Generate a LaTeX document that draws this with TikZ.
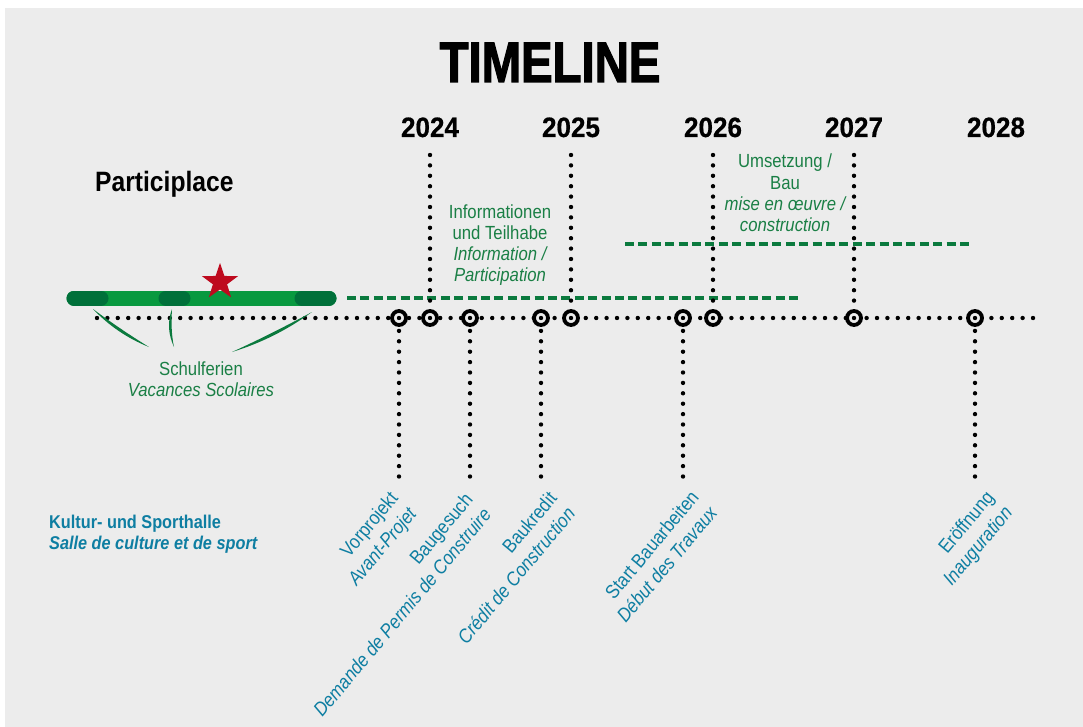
\documentclass[tikz,border=0pt]{standalone}
\usepackage{fontspec}
\setmainfont{Liberation Sans}[FakeStretch=0.88]
\newfontfamily\titlefont{Liberation Sans}[FakeStretch=0.83, FakeBold=2]
\newfontfamily\yearfont{Liberation Sans}[FakeStretch=0.93, FakeBold=0.6]
\usetikzlibrary{shapes.geometric}
\definecolor{bg}{HTML}{ECECEC}
\definecolor{bargreen}{HTML}{08993F}
\definecolor{bardark}{HTML}{00703A}
\definecolor{dgreen}{HTML}{0B7A3E}
\definecolor{gtext}{HTML}{1A7F45}
\definecolor{btext}{HTML}{0E7EA2}
\definecolor{starred}{HTML}{BE0A1E}
\begin{document}
\begin{tikzpicture}[x=1pt,y=-1pt,
  dotline/.style={line width=4.4pt, line cap=round, dash pattern=on 0pt off 10.4pt},
  gdash/.style={dgreen, line width=3.2pt, dash pattern=on 9pt off 4.4pt},
  ring/.style={circle, draw=black, line width=3.8pt, fill=bg, inner sep=0pt, minimum size=14pt},
  lbl/.style={inner sep=0pt, anchor=base},
  gfont/.style={font=\fontsize{19}{21}\selectfont, text=gtext},
  rlab/.style={inner sep=0pt, anchor=base east, text=btext, font=\fontsize{19.5}{21}\selectfont},
  year/.style={lbl, font=\yearfont\bfseries\fontsize{28}{28}\selectfont}
]
\useasboundingbox (0,0) rectangle (1083,727);
\fill[white] (0,0) rectangle (1083,727);
\fill[bg] (5,8) rectangle (1083,727);

% title and years
\node[lbl, font=\titlefont\bfseries\fontsize{57}{57}\selectfont] (title) at (550,82) {TIMELINE};
\node[year] (y24) at (430,137) {2024};
\node[year] (y25) at (571,137) {2025};
\node[year] (y26) at (713,137) {2026};
\node[year] (y27) at (854,137) {2027};
\node[year] (y28) at (996,137) {2028};

\node[lbl, anchor=base west, font=\bfseries\fontsize{28}{28}\selectfont] (pp) at (95,192) {Participlace};

% main time axis
\coordinate (axL) at (97,318);
\coordinate (axR) at (1040,318);
\draw[dotline] (axL) -- (axR);

% upper year ticks
\foreach \x/\n in {430/a, 571/b, 713/c, 854/d}
  \coordinate (top\n) at (\x,155);
% lower milestone ticks
\foreach \x/\n in {399/p, 470/q, 541/r, 683/s, 975/t}
  \coordinate (bot\n) at (\x,481);

% green phase lines
\coordinate (ph1a) at (347,298);
\coordinate (ph1b) at (800,298);
\coordinate (ph2a) at (625,244);
\coordinate (ph2b) at (972,244);
\draw[gdash] (ph1a) -- (ph1b);
\draw[gdash] (ph2a) -- (ph2b);

% markers on the axis
\node[ring] (mp) at (399,318) {};
\node[ring] (ma) at (430,318) {};
\node[ring] (mq) at (470,318) {};
\node[ring] (mr) at (541,318) {};
\node[ring] (mb) at (571,318) {};
\node[ring] (ms) at (683,318) {};
\node[ring] (mc) at (713,318) {};
\node[ring] (md) at (854,318) {};
\node[ring] (mt) at (975,318) {};
\foreach \n in {p,a,q,r,b,s,c,d,t}
  \fill (m\n.center) circle[radius=2.2pt];

\foreach \n in {a,b,c,d}
  \draw[dotline] (top\n) -- (m\n.north);
\foreach \n in {p,q,r,s,t}
  \draw[dotline] (m\n.south) ++(0,4) -- (bot\n);

% school holidays bar
\draw[bargreen, line width=15pt, line cap=round] (74,298) -- (329,298);
\draw[bardark, line width=15pt, line cap=round] (74,298) -- (101,298);
\draw[bardark, line width=15pt, line cap=round] (166,298) -- (183,298);
\draw[bardark, line width=15pt, line cap=round] (302,298) -- (329,298);
\node[star, star points=5, star point ratio=2.55, minimum size=38pt, inner sep=0pt, fill=starred] (st) at (220,282) {};

% brush strokes towards the holiday label
\fill[dgreen] (93,309) .. controls (108.9,325.8) and (127.5,338.4) .. (149,347)
  .. controls (129.7,335.1) and (111.1,322.5) .. (93,309) -- cycle;
\fill[dgreen] (172,309) .. controls (167.2,322) and (168.3,334.6) .. (174,347)
  .. controls (171.3,334.4) and (171.2,321.8) .. (172,309) -- cycle;
\fill[dgreen] (312,312) .. controls (287.5,329.8) and (260.9,343.2) .. (232,352)
  .. controls (259.1,339.6) and (285.8,326.2) .. (312,312) -- cycle;

\node[lbl, gfont] (sf1) at (201,375) {Schulferien};
\node[lbl, gfont] (sf2) at (201,396) {\itshape Vacances Scolaires};

% phase labels
\node[lbl, gfont] (in1) at (500,219) {Informationen};
\node[lbl, gfont] (in2) at (500,240) {und Teilhabe};
\node[lbl, gfont] (in3) at (500,260.5) {\itshape Information /};
\node[lbl, gfont] (in4) at (500,281) {\itshape Participation};

\node[lbl, gfont] (um1) at (785,168) {Umsetzung /};
\node[lbl, gfont] (um2) at (785,189.5) {Bau};
\node[lbl, gfont] (um3) at (785,211) {\itshape mise en œuvre /};
\node[lbl, gfont] (um4) at (785,232) {\itshape construction};

% project name
\node[lbl, anchor=base west, text=btext, font=\bfseries\fontsize{18.5}{21}\selectfont] (k1) at (49,528) {Kultur- und Sporthalle};
\node[lbl, anchor=base west, text=btext, font=\bfseries\itshape\fontsize{18.5}{21}\selectfont] (k2) at (49,549) {Salle de culture et de sport};

% milestone labels
\begin{scope}[shift={(399,499)}, rotate=50, transform shape]
  \node[rlab] (vp1) at (0,0) {Vorprojekt};
  \node[rlab] (vp2) at (0,24) {\itshape Avant-Projet};
\end{scope}
\begin{scope}[shift={(474,500)}, rotate=50, transform shape]
  \node[rlab] (bg1) at (0,0) {Baugesuch};
  \node[rlab] (bg2) at (0,24) {\itshape Demande de Permis de Construire};
\end{scope}
\begin{scope}[shift={(558,499)}, rotate=50, transform shape]
  \node[rlab] (bk1) at (0,0) {Baukredit};
  \node[rlab] (bk2) at (0,24) {\itshape Crédit de Construction};
\end{scope}
\begin{scope}[shift={(700,498)}, rotate=50, transform shape]
  \node[rlab] (sb1) at (0,0) {Start Bauarbeiten};
  \node[rlab] (sb2) at (0,24) {\itshape Début des Travaux};
\end{scope}
\begin{scope}[shift={(995,498)}, rotate=50, transform shape]
  \node[rlab] (er1) at (0,0) {Eröffnung};
  \node[rlab] (er2) at (0,24) {\itshape Inauguration};
\end{scope}
\end{tikzpicture}
\end{document}
